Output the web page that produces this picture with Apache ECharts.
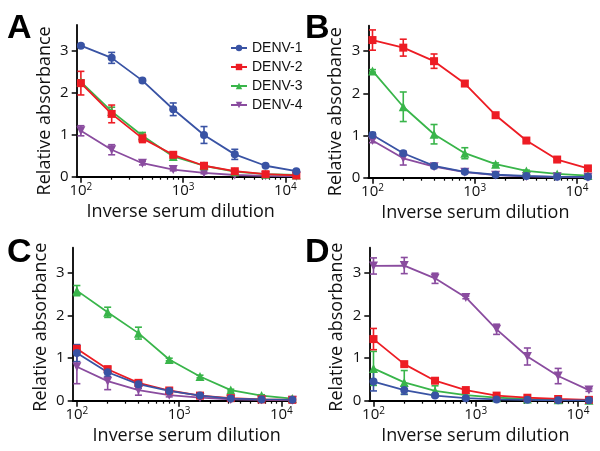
<!DOCTYPE html>
<html><head><meta charset="utf-8">
<script src="https://cdn.jsdelivr.net/npm/echarts@6/dist/echarts.min.js"></script>
<style>html,body{margin:0;padding:0;background:#fff}#c{width:600px;height:451px}</style>
</head><body><div id="c"></div>
<script>
const dilutions = [100, 200, 400, 800, 1600, 3200, 6400, 12800];
const seriesNames = ['DENV-1', 'DENV-2', 'DENV-3', 'DENV-4'];
const panelLabels = ['A', 'B', 'C', 'D'];
const yTickValues = [0, 1, 2, 3];
const xMajorTicks = [100, 1000, 10000];
const xMinorTicks = [200, 300, 400, 500, 600, 700, 800, 900, 2000, 3000, 4000, 5000, 6000, 7000, 8000, 9000];
const xTickExponents = {100: '2', 1000: '3', 10000: '4'};
const xTitle = 'Inverse serum dilution';
const yTitle = 'Relative absorbance';

// Panel A
const A_DENV1 = [3.11, 2.82, 2.28, 1.60, 0.99, 0.53, 0.26, 0.13];
const A_DENV1_err = [0.03, 0.13, 0.04, 0.15, 0.20, 0.12, 0.03, 0.03];
const A_DENV2 = [2.22, 1.49, 0.91, 0.52, 0.26, 0.13, 0.06, 0.03];
const A_DENV2_err = [0.28, 0.21, 0.10, 0.04, 0.03, 0.05, 0.03, 0.02];
const A_DENV3 = [2.25, 1.55, 0.97, 0.48, 0.26, 0.12, 0.06, 0.04];
const A_DENV3_err = [0.05, 0.10, 0.08, 0.05, 0.02, 0.02, 0.02, 0.01];
const A_DENV4 = [1.09, 0.64, 0.32, 0.17, 0.09, 0.04, 0.02, 0.01];
const A_DENV4_err = [0.12, 0.12, 0.04, 0.03, 0.02, 0.01, 0.01, 0.01];
// Panel B
const B_DENV1 = [1.01, 0.58, 0.28, 0.14, 0.07, 0.04, 0.02, 0.02];
const B_DENV1_err = [0.06, 0.04, 0.03, 0.02, 0.02, 0.01, 0.01, 0.01];
const B_DENV2 = [3.26, 3.08, 2.76, 2.23, 1.48, 0.88, 0.43, 0.22];
const B_DENV2_err = [0.24, 0.20, 0.17, 0.06, 0.03, 0.03, 0.03, 0.03];
const B_DENV3 = [2.53, 1.68, 1.03, 0.58, 0.32, 0.16, 0.09, 0.05];
const B_DENV3_err = [0.03, 0.35, 0.23, 0.13, 0.03, 0.02, 0.02, 0.01];
const B_DENV4 = [0.88, 0.46, 0.26, 0.13, 0.06, 0.03, 0.02, 0.01];
const B_DENV4_err = [0.05, 0.16, 0.04, 0.03, 0.02, 0.01, 0.01, 0.01];
// Panel C
const C_DENV1 = [1.12, 0.67, 0.39, 0.23, 0.12, 0.05, 0.03, 0.02];
const C_DENV1_err = [0.20, 0.10, 0.10, 0.05, 0.03, 0.02, 0.01, 0.01];
const C_DENV2 = [1.22, 0.74, 0.42, 0.24, 0.12, 0.06, 0.03, 0.02];
const C_DENV2_err = [0.08, 0.07, 0.05, 0.03, 0.02, 0.02, 0.01, 0.01];
const C_DENV3 = [2.59, 2.08, 1.59, 0.97, 0.57, 0.25, 0.12, 0.05];
const C_DENV3_err = [0.12, 0.12, 0.14, 0.03, 0.03, 0.02, 0.02, 0.01];
const C_DENV4 = [0.80, 0.46, 0.25, 0.13, 0.07, 0.03, 0.02, 0.01];
const C_DENV4_err = [0.40, 0.20, 0.12, 0.04, 0.02, 0.01, 0.01, 0.01];
// Panel D
const D_DENV1 = [0.45, 0.25, 0.12, 0.06, 0.03, 0.02, 0.01, 0.01];
const D_DENV1_err = [0.22, 0.10, 0.03, 0.02, 0.01, 0.01, 0.01, 0.01];
const D_DENV2 = [1.45, 0.86, 0.47, 0.25, 0.12, 0.07, 0.04, 0.02];
const D_DENV2_err = [0.25, 0.04, 0.03, 0.02, 0.02, 0.01, 0.01, 0.01];
const D_DENV3 = [0.76, 0.43, 0.23, 0.13, 0.07, 0.04, 0.02, 0.01];
const D_DENV3_err = [0.40, 0.28, 0.12, 0.04, 0.02, 0.01, 0.01, 0.01];
const D_DENV4 = [3.17, 3.18, 2.88, 2.43, 1.68, 1.04, 0.58, 0.25];
const D_DENV4_err = [0.19, 0.19, 0.12, 0.03, 0.12, 0.20, 0.18, 0.03];

const panelData = [
  [[A_DENV1, A_DENV1_err], [A_DENV2, A_DENV2_err], [A_DENV3, A_DENV3_err], [A_DENV4, A_DENV4_err]],
  [[B_DENV1, B_DENV1_err], [B_DENV2, B_DENV2_err], [B_DENV3, B_DENV3_err], [B_DENV4, B_DENV4_err]],
  [[C_DENV1, C_DENV1_err], [C_DENV2, C_DENV2_err], [C_DENV3, C_DENV3_err], [C_DENV4, C_DENV4_err]],
  [[D_DENV1, D_DENV1_err], [D_DENV2, D_DENV2_err], [D_DENV3, D_DENV3_err], [D_DENV4, D_DENV4_err]]
];

const colors = ['#3953A4', '#ED1C24', '#39B54A', '#8A4C9F'];
const symbols = ['circle', 'rect', 'triangle', 'path://M0,0 L10,0 L5,9 Z'];
const symbolSizes = [8, 8, 9, 9];

const grids = [
  {left: 76.7, top: 25, width: 222, height: 151.7},
  {left: 368.3, top: 25.7, width: 222, height: 152},
  {left: 72.7, top: 247.7, width: 222, height: 153},
  {left: 369.3, top: 247.7, width: 222, height: 153}
];
const letterPos = [[7, 12], [305, 12], [7, 236], [305, 236]];
const yNamePad = [[0, 20, 0, 0], [0, 20, 0, 0], [0, 6, 0, 0], [0, 6, 0, 0]];
const xNamePad = [[0, 14, 0, 0], [0, 8, 0, 0], [0, 0, 0, 6], [0, 10, 0, 0]];

const FONT = '"Open Sans", sans-serif';
const xMin = 91, xMax = 13500;

const xAxes = [], yAxes = [], series = [], graphics = [];
grids.forEach((g, i) => {
  xAxes.push({
    gridIndex: i, type: 'log', logBase: 10, min: xMin, max: xMax, position: 'bottom',
    name: xTitle, nameLocation: 'middle', nameGap: 26,
    nameTextStyle: {fontFamily: FONT, fontSize: 18, color: '#111', padding: xNamePad[i]},
    axisLine: {show: true, lineStyle: {color: '#000', width: 1.8}},
    axisTick: {show: true, inside: false, length: 6, customValues: xMajorTicks, lineStyle: {color: '#000', width: 1.5}},
    axisLabel: {customValues: xMajorTicks, margin: 5, fontFamily: FONT, fontSize: 15, color: '#111',
      formatter: v => '10{sup|' + (xTickExponents[Math.round(v)] || '') + '}',
      rich: {sup: {fontFamily: FONT, fontSize: 10, color: '#111', padding: [0, 0, 9, 0]}}},
    splitLine: {show: false}, minorTick: {show: false}
  });
  xAxes.push({
    gridIndex: i, type: 'log', logBase: 10, min: xMin, max: xMax, position: 'bottom',
    axisLine: {show: false},
    axisTick: {show: true, inside: false, length: 3, customValues: xMinorTicks, lineStyle: {color: '#000', width: 1.2}},
    axisLabel: {show: false}, splitLine: {show: false}
  });
  yAxes.push({
    gridIndex: i, type: 'value', min: 0, max: 3.6,
    name: yTitle, nameLocation: 'middle', nameGap: 23,
    nameTextStyle: {fontFamily: FONT, fontSize: 18, color: '#111', padding: yNamePad[i]},
    axisLine: {show: true, lineStyle: {color: '#000', width: 1.8}},
    axisTick: {show: true, inside: false, length: 5, customValues: yTickValues, lineStyle: {color: '#000', width: 1.5}},
    axisLabel: {customValues: yTickValues, margin: 8, fontFamily: FONT, fontSize: 15, color: '#111'},
    splitLine: {show: false}
  });
  graphics.push({type: 'text', left: letterPos[i][0], top: letterPos[i][1],
    style: {text: panelLabels[i], font: 'bold 34px "Liberation Sans", Arial, sans-serif', fill: '#000'}});

  // draw order DENV-4, DENV-3, DENV-2, DENV-1 (DENV-1 on top)
  [3, 2, 1, 0].forEach(k => {
    const [vals, errs] = panelData[i][k];
    series.push({
      type: 'custom', xAxisIndex: 2 * i, yAxisIndex: i, name: seriesNames[k] + ' err',
      silent: true, z: 2,
      data: dilutions.map((d, j) => [d, vals[j] - errs[j], vals[j] + errs[j]]),
      encode: {x: 0, y: [1, 2]},
      renderItem: (params, api) => {
        const x = api.value(0);
        const p1 = api.coord([x, api.value(2)]);
        const p2 = api.coord([x, api.value(1)]);
        const w = 3.5;
        const st = {stroke: colors[k], lineWidth: 1.6};
        return {type: 'group', children: [
          {type: 'line', shape: {x1: p1[0], y1: p1[1], x2: p2[0], y2: p2[1]}, style: st},
          {type: 'line', shape: {x1: p1[0] - w, y1: p1[1], x2: p1[0] + w, y2: p1[1]}, style: st},
          {type: 'line', shape: {x1: p2[0] - w, y1: p2[1], x2: p2[0] + w, y2: p2[1]}, style: st}
        ]};
      }
    });
    series.push({
      type: 'line', name: seriesNames[k], xAxisIndex: 2 * i, yAxisIndex: i, z: 3,
      data: dilutions.map((d, j) => [d, vals[j]]),
      color: colors[k], symbol: symbols[k], symbolSize: symbolSizes[k],
      showSymbol: true, smooth: false,
      lineStyle: {color: colors[k], width: 1.8},
      itemStyle: {color: colors[k]},
      animation: false
    });
  });
});

const chart = echarts.init(document.getElementById('c'), null, {renderer: 'canvas'});
chart.setOption({
  animation: false,
  backgroundColor: '#fff',
  grid: grids,
  xAxis: xAxes,
  yAxis: yAxes,
  series: series,
  graphic: graphics,
  legend: {
    data: seriesNames, orient: 'vertical', left: 225, top: 36,
    itemWidth: 16, itemHeight: 8, itemGap: 5,
    textStyle: {fontFamily: '"Liberation Sans", Arial, sans-serif', fontSize: 14, color: '#111'}
  }
});
</script></body></html>
